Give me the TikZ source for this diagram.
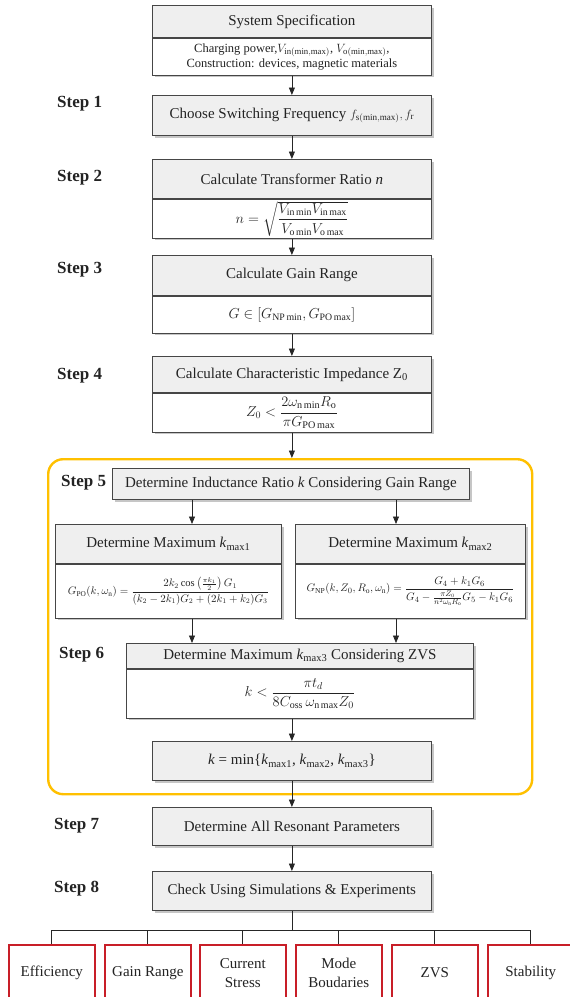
\documentclass[tikz,border=0pt]{standalone}
\usepackage{amsmath}
\usepackage{fontspec}
\setmainfont{Liberation Serif}
\usetikzlibrary{arrows.meta,shadows,calc}
\definecolor{hdrgray}{RGB}{239,239,239}
\definecolor{boxline}{RGB}{70,70,70}
\definecolor{txt}{RGB}{35,35,35}
\definecolor{frameyellow}{RGB}{255,192,0}
\definecolor{outred}{RGB}{200,30,40}
\begin{document}
\begin{tikzpicture}[x=1pt,y=-1pt,
  box/.style={draw=boxline, line width=0.8pt, inner sep=0pt, align=center, text=txt,
    font=\fontsize{15}{18}\selectfont,
    drop shadow={shadow xshift=2.2pt, shadow yshift=-2.2pt, opacity=0.45}},
  hdr/.style={box, fill=hdrgray},
  bdy/.style={box, fill=white, font=\fontsize{12.5}{15}\selectfont},
  steplbl/.style={font=\fontsize{17}{20}\selectfont\bfseries, anchor=west, inner sep=0pt, text=txt},
  arr/.style={-{Triangle[length=7.5pt,width=6pt]}, line width=0.8pt, draw=black!85},
  ln/.style={line width=0.8pt, draw=black!85},
  outbox/.style={draw=outred, line width=1.6pt, fill=white, minimum width=86, minimum height=56,
    anchor=north west, align=center, text=txt, font=\fontsize{15}{19}\selectfont, inner sep=0pt}
]
\useasboundingbox (0,0) rectangle (570,997);
\clip (0,0) rectangle (570,997);

% yellow frame
\node[draw=frameyellow, line width=2.4pt, rounded corners=15pt, minimum width=484, minimum height=335,
  anchor=north west, inner sep=0pt] (frame) at (47,458) {};

% box 1
\node[hdr, minimum width=279, minimum height=32, anchor=north west] (h1) at (152,5) {System Specification};
\node[bdy, minimum width=279, minimum height=37, anchor=north] (b1) at (h1.south)
  {Charging power,$V_{\mathrm{in(min,max)}}$, $V_{\mathrm{o(min,max)}}$,\\Construction: devices, magnetic materials};

% box 2
\node[hdr, minimum width=279, minimum height=40, anchor=north west] (h2) at (152,95)
  {Choose Switching Frequency {\fontsize{13}{15}\selectfont$f_{\mathrm{s(min,max)}}, f_{\mathrm{r}}$}};

% box 3
\node[hdr, minimum width=279, minimum height=39, anchor=north west] (h3) at (152,159) {Calculate Transformer Ratio \textit{n}};
\node[bdy, minimum width=279, minimum height=39, anchor=north, font=\fontsize{14}{16}\selectfont] (b3) at (h3.south)
  {$n=\sqrt{\dfrac{V_{\mathrm{in\,min}}V_{\mathrm{in\,max}}}{V_{\mathrm{o\,min}}V_{\mathrm{o\,max}}}}$};

% box 4
\node[hdr, minimum width=279, minimum height=40, anchor=north west] (h4) at (152,255) {Calculate Gain Range};
\node[bdy, minimum width=279, minimum height=37, anchor=north, font=\fontsize{14}{16}\selectfont] (b4) at (h4.south)
  {$G\in[G_{\mathrm{NP\,min}},G_{\mathrm{PO\,max}}]$};

% box 5
\node[hdr, minimum width=279, minimum height=36, anchor=north west] (h5) at (152,356) {Calculate Characteristic Impedance Z\textsubscript{0}};
\node[bdy, minimum width=279, minimum height=39, anchor=north, font=\fontsize{14.5}{16}\selectfont] (b5) at (h5.south)
  {$Z_0<\dfrac{2\omega_{\mathrm{n\,min}}R_{\mathrm{o}}}{\pi G_{\mathrm{PO\,max}}}$};

% step 5 box
\node[hdr, minimum width=357, minimum height=31, anchor=north west] (h6) at (112,468)
  {Determine Inductance Ratio \textit{k} Considering Gain Range};

% left / right boxes
\node[hdr, minimum width=226, minimum height=39, anchor=north west] (hl) at (55,524) {Determine Maximum \textit{k}\textsubscript{max1}};
\node[bdy, minimum width=226, minimum height=54, anchor=north, font=\fontsize{10.5}{12}\selectfont] (bl) at (hl.south)
  {$G_{\mathrm{PO}}(k,\omega_{\mathrm{n}})=\dfrac{2k_2\cos\left(\frac{\pi k_1}{2}\right)G_1}{(k_2-2k_1)G_2+(2k_1+k_2)G_3}$};
\node[hdr, minimum width=230, minimum height=39, anchor=north west] (hr) at (295,524) {Determine Maximum \textit{k}\textsubscript{max2}};
\node[bdy, minimum width=230, minimum height=54, anchor=north, font=\fontsize{10.8}{12}\selectfont] (br) at (hr.south)
  {$G_{\mathrm{NP}}(k,Z_0,R_{\mathrm{o}},\omega_{\mathrm{n}})=\dfrac{G_4+k_1G_6}{G_4-\frac{\pi Z_0}{n^2\omega_{\mathrm{n}}R_{\mathrm{o}}}G_5-k_1G_6}$};

% step 6 box
\node[hdr, minimum width=347, minimum height=25, anchor=north west] (h7) at (126,643)
  {Determine Maximum \textit{k}\textsubscript{max3} Considering ZVS};
\node[bdy, minimum width=347, minimum height=49, anchor=north, font=\fontsize{14.3}{16}\selectfont] (b7) at (h7.south)
  {$k<\dfrac{\pi t_d}{8C_{\mathrm{oss}}\,\omega_{\mathrm{n\,max}}Z_0}$};

% k = min box
\node[hdr, minimum width=279, minimum height=39, anchor=north west] (h8) at (152,741)
  {\textit{k} = min\{\textit{k}\textsubscript{max1}, \textit{k}\textsubscript{max2}, \textit{k}\textsubscript{max3}\}};

% step 7, 8
\node[hdr, minimum width=279, minimum height=38, anchor=north west] (h9) at (152,807) {Determine All Resonant Parameters};
\node[hdr, minimum width=279, minimum height=39, anchor=north west] (h10) at (152,871) {Check Using Simulations \& Experiments};

% step labels
\node[steplbl] (st1) at (57,104) {Step 1};
\node[steplbl] (st2) at (57,178) {Step 2};
\node[steplbl] (st3) at (57,270) {Step 3};
\node[steplbl] (st4) at (57,376) {Step 4};
\node[steplbl] (st5) at (61,483) {Step 5};
\node[steplbl] (st6) at (59,655) {Step 6};
\node[steplbl] (st7) at (54,826) {Step 7};
\node[steplbl] (st8) at (54,889) {Step 8};

% outcome boxes
\node[outbox] (o1) at (8,944) {Efficiency};
\node[outbox] (o2) at (104,944) {Gain Range};
\node[outbox] (o3) at (199,944) {Current\\Stress};
\node[outbox] (o4) at (295,944) {Mode\\Boudaries};
\node[outbox] (o5) at (391,944) {ZVS};
\node[outbox] (o6) at (487,944) {Stability};

% arrows
\coordinate (xl) at (192,0);
\coordinate (xr) at (396,0);
\coordinate (tj) at (291,930);
\draw[arr] (b1.south) -- (h2.north);
\draw[arr] (h2.south) -- (h3.north);
\draw[arr] (b3.south) -- (h4.north);
\draw[arr] (b4.south) -- (h5.north);
\draw[arr] (b5.south) -- (b5.south |- frame.north);
\draw[arr] (h6.south -| xl) -- (hl.north -| xl);
\draw[arr] (h6.south -| xr) -- (hr.north -| xr);
\draw[arr] (bl.south -| xl) -- (h7.north -| xl);
\draw[arr] (br.south -| xr) -- (h7.north -| xr);
\draw[arr] (b7.south -| h8.north) -- (h8.north);
\draw[arr] (h8.south) -- (h9.north);
\draw[arr] (h9.south) -- (h10.north);
\draw[ln] (h10.south) -- (h10.south |- tj);
\draw[ln] (o1.north |- tj) -- (o6.north |- tj);
\foreach \o in {o1,o2,o3,o4,o5,o6} {\draw[ln] (\o.north |- tj) -- (\o.north);}
\end{tikzpicture}
\end{document}
